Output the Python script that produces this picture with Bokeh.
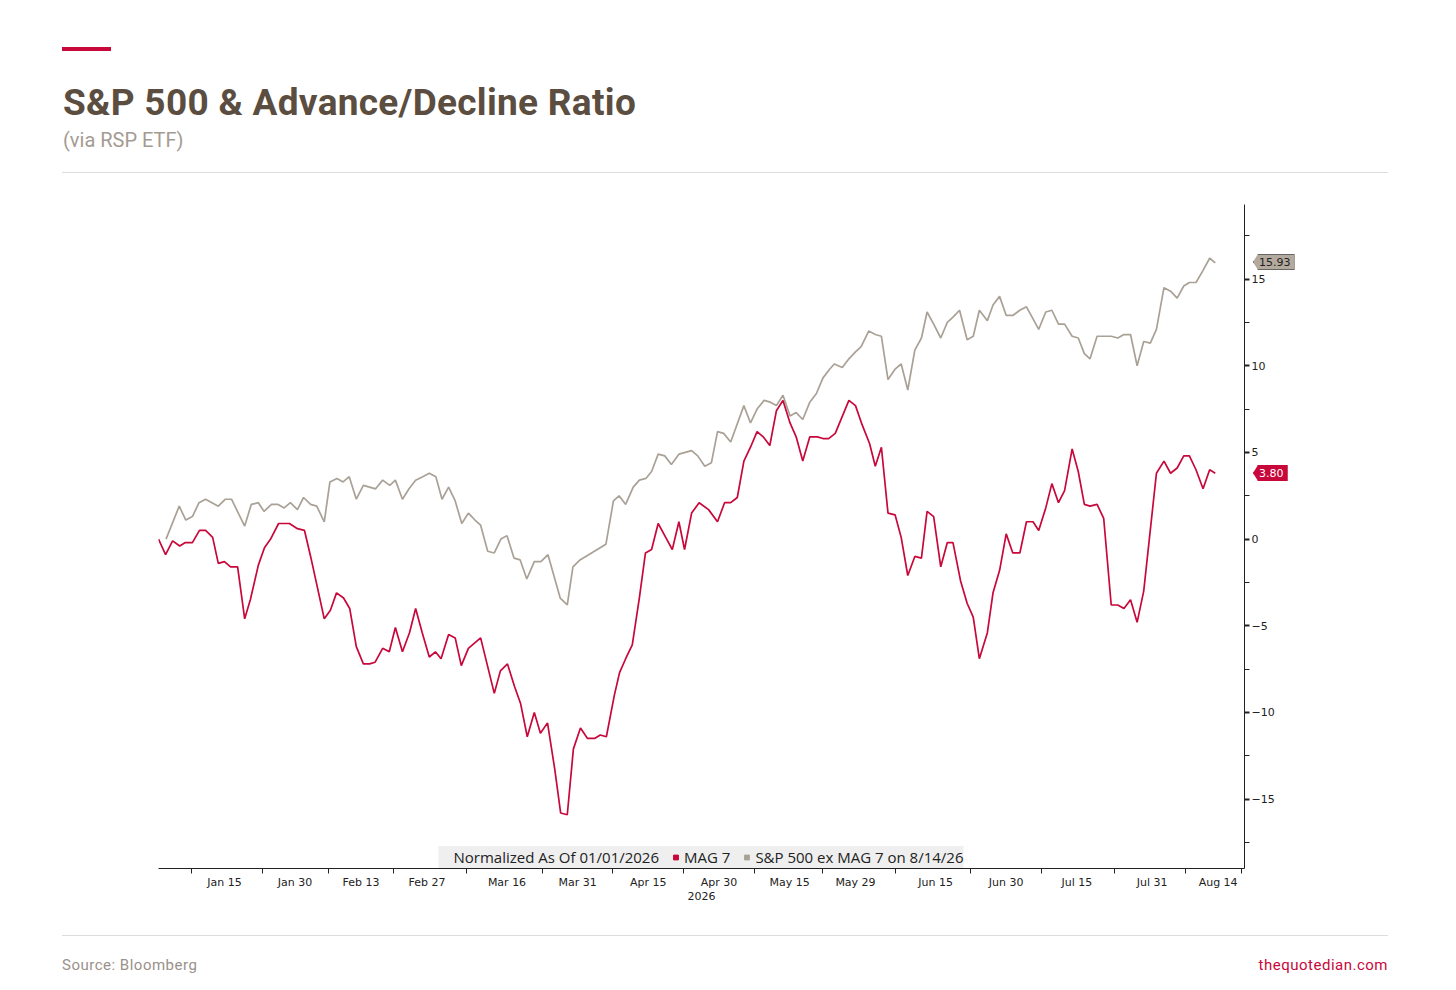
from bokeh.plotting import figure
from bokeh.models import (ColumnDataSource, FixedTicker, Legend, LegendItem, Div, Range1d)
from bokeh.layouts import column
from bokeh.embed import file_html
from bokeh.resources import INLINE

# ---- data: days since 2026-01-01, normalized % change ----
mag7_day = [0,1.5,3,4.5,5.7,7.2,8.7,10,11.5,12.7,14,15.3,16.8,18.3,19.5,21.2,22.5,23.8,25.5,26.8,27.8,29.5,31,32.3,
            35.2,36.5,37.8,39.3,40.6,42,43.5,44.8,46,47.6,49,50.3,51.8,53.3,54.6,56,57.5,58.8,60,61.6,63,64.3,65.8,
            68.4,71.3,72.6,74.1,75.6,76.9,78.3,79.8,81.1,82.6,84.1,85.4,86.8,88.1,89.6,91.1,92.6,93.8,95.1,96.8,97.9,
            99.2,100.6,102.1,103.4,104.7,106.1,107.7,109.1,110.5,111.7,113.2,114.8,116.8,118.7,120.2,121.5,122.9,
            124.3,125.7,127.1,128.4,129.8,131.2,132.6,134.1,135.4,136.8,138.3,139.9,141.1,142.3,143.7,146.6,148.0,
            149.4,151.0,152.2,153.5,154.9,156.4,157.7,159.1,160.6,162.0,163.2,164.6,166.1,167.5,168.7,170.3,171.7,
            173.0,174.3,176.0,177.2,178.6,180.0,181.4,182.9,184.3,185.7,186.9,188.4,189.7,191.1,192.4,194.0,195.3,
            196.6,197.8,199.3,200.7,202.3,203.7,205.0,206.4,207.8,209.2,211.9,213.5,214.9,216.3,217.7,218.9,220.3,
            221.8,223.2,224.4]
mag7_val = [0,-0.9,-0.1,-0.4,-0.2,-0.2,0.5,0.5,0.1,-1.4,-1.3,-1.6,-1.6,-4.6,-3.5,-1.5,-0.5,0,0.9,0.9,0.9,0.6,0.5,-1.0,
            -4.6,-4.1,-3.1,-3.4,-4.0,-6.2,-7.2,-7.2,-7.1,-6.3,-6.5,-5.1,-6.5,-5.4,-4.0,-5.4,-6.8,-6.5,-6.9,-5.5,-5.7,-7.3,-6.3,
            -5.7,-8.9,-7.6,-7.2,-8.5,-9.5,-11.4,-10.0,-11.2,-10.6,-13.2,-15.8,-15.9,-12.1,-10.9,-11.5,-11.5,-11.3,-11.4,-9.0,-7.7,
            -6.9,-6.1,-3.4,-0.8,-0.6,0.9,0.1,-0.6,1.0,-0.6,1.5,2.1,1.7,1.0,2.1,2.1,2.4,
            4.5,5.3,6.2,5.9,5.4,7.4,8.0,6.7,5.9,4.5,5.9,5.9,5.8,5.8,6.1,8.0,7.7,
            6.6,5.5,4.2,5.3,1.5,1.4,0.1,-2.1,-1.0,-1.1,1.6,1.3,-1.6,-0.2,-0.2,-2.4,-3.7,
            -4.5,-6.9,-5.4,-3.1,-1.8,0.3,-0.8,-0.8,1.0,1.0,0.5,1.8,3.2,2.1,2.8,5.2,3.9,
            2.0,1.9,2.0,1.2,-3.8,-3.8,-4.0,-3.5,-4.8,-3.0,3.8,4.5,3.8,4.1,4.8,4.8,4.0,
            2.9,4.0,3.80]

ex_day = [1.6,4.4,5.8,7.2,8.6,10.0,12.7,14.2,15.5,18.3,19.7,21.2,22.4,24.0,25.4,26.7,28.0,29.5,30.8,32.3,33.6,35.2,
          36.4,37.9,39.2,40.5,42.0,43.5,46.1,47.6,49.1,50.3,51.8,53.2,54.6,56.1,57.5,58.9,60.2,61.6,63.0,64.4,65.8,
          67.2,68.4,69.9,71.3,72.7,74.0,75.5,76.8,78.2,79.8,81.2,82.7,85.3,86.8,88.0,89.5,95.0,96.6,97.8,99.2,100.8,
          102.1,103.5,104.7,106.1,107.5,108.9,110.5,113.2,114.5,116.0,117.4,118.7,120.0,121.5,124.3,125.7,127.1,
          128.6,129.9,131.2,132.6,134.1,135.4,136.8,138.3,139.7,141.1,142.5,143.5,145.2,146.6,148.0,149.2,150.8,
          152.2,153.5,154.9,156.4,157.7,159.1,160.6,162.0,163.2,164.6,166.1,167.5,168.7,170.1,171.7,173.0,174.3,
          176.0,177.2,178.6,180.0,181.4,182.9,184.3,185.7,186.9,188.4,189.7,191.1,192.4,194.0,195.3,196.6,197.8,
          199.3,200.7,202.3,203.7,205.0,206.4,207.8,209.2,210.6,211.9,213.5,214.9,216.3,217.7,218.9,220.3,221.8,
          223.2,224.4]
ex_val = [0.0,1.9,1.1,1.3,2.1,2.3,1.9,2.3,2.3,0.75,2.0,2.1,1.6,2.0,2.0,1.8,2.1,1.7,2.4,2.0,1.9,1.0,
          3.3,3.5,3.3,3.6,2.3,3.1,2.9,3.4,3.1,3.4,2.3,2.9,3.4,3.6,3.8,3.6,2.3,3.0,2.2,0.9,1.5,
          1.1,0.8,-0.7,-0.8,0.0,0.2,-1.1,-1.2,-2.3,-1.3,-1.3,-0.9,-3.4,-3.8,-1.6,-1.2,-0.3,2.2,2.5,2.0,3.0,
          3.4,3.5,3.9,4.9,4.8,4.3,4.9,5.1,4.8,4.2,4.4,6.2,6.1,5.6,7.7,6.7,7.5,
          8.0,7.9,7.7,8.3,7.1,7.3,6.9,7.9,8.4,9.3,9.8,10.1,9.9,10.4,10.8,11.1,12.0,
          11.8,11.7,9.2,9.8,10.1,8.6,10.9,11.6,13.1,12.4,11.6,12.5,12.8,13.2,11.5,11.7,13.2,
          12.6,13.5,14.0,12.9,12.9,13.2,13.4,12.7,12.1,13.1,13.2,12.4,12.4,11.7,11.6,10.7,10.4,
          11.7,11.7,11.7,11.6,11.8,11.8,10.0,11.4,11.3,12.1,14.5,14.3,13.9,14.6,14.8,14.8,15.5,
          16.2,15.93]

month_ticks = [14,29,43,57,74,89,104,119,134,148,165,180,195,211,225]
month_labels = ["Jan 15","Jan 30","Feb 13","Feb 27","Mar 16","Mar 31","Apr 15","Apr 30",
                "May 15","May 29","Jun 15","Jun 30","Jul 15","Jul 31","Aug 14"]
boundary_ticks = [7,22,36,50,65.5,81.5,96.5,111.5,126.5,141,156.5,172.5,187.5,203,218,230]
y_ticks = [-15,-10,-5,0,5,10,15]
y_minor = [-17.5,-12.5,-7.5,-2.5,2.5,7.5,12.5,17.5]

RED = "#c8073a"
GRAY = "#aaa196"
BROWN = "#5b4d3f"

HEAD_H = 187
BL, BR, BT, BB = 158, 196, 7, 36
FIG_H = 707
Y0, Y1 = -19.0, 19.3
frame_h = FIG_H - BT - BB
frame_w = 1440 - BL - BR

def tag_top(v):
    # vertical centre of value v, relative to the header box top
    return HEAD_H + BT + (Y1 - v) / (Y1 - Y0) * frame_h

tags = ""
for val, bg, fg, bd in [(ex_val[-1], "#b3a99d", "#222222", "#666666"), (mag7_val[-1], RED, "white", RED)]:
    tags += (f'<div style="position:absolute;left:{BL + frame_w + 4}px;top:{tag_top(val) - 3:.0f}px;'
             f'height:16px;line-height:16px;font-family:\'DejaVu Sans\';font-size:11px;color:{fg};'
             f'background:{bg};border:1px solid {bd};padding:0 3px 0 5px;'
             f'clip-path:polygon(5px 0,100% 0,100% 100%,5px 100%,0 50%);">{val:.2f}</div>')

header = Div(width=1440, height=HEAD_H, styles={"overflow": "visible", "z-index": "10"}, text=f"""
<div style="position:relative;width:1440px;height:{HEAD_H}px;overflow:visible;font-family:Roboto,'Noto Sans',sans-serif;">
 <div style="position:absolute;left:57px;top:42px;width:49px;height:4px;background:{RED};"></div>
 <div style="position:absolute;left:58px;top:72px;font-size:37px;font-weight:bold;color:{BROWN};letter-spacing:0.3px;">S&amp;P 500 &amp; Advance/Decline Ratio</div>
 <div style="position:absolute;left:58px;top:121px;font-size:20px;color:#a49b92;">(via RSP ETF)</div>
 <div style="position:absolute;left:57px;top:167px;width:1326px;height:1px;background:#dddddd;"></div>
 {tags}
</div>""")

p = figure(width=1440, height=FIG_H, output_backend="svg", toolbar_location=None,
           x_range=Range1d(0, 230.6), y_range=Range1d(Y0, Y1),
           min_border_left=BL, min_border_right=BR, min_border_top=BT, min_border_bottom=BB,
           y_axis_location="right")
p.outline_line_color = None
p.xgrid.visible = False
p.ygrid.visible = False

src_m = ColumnDataSource(dict(x=mag7_day, y=mag7_val))
src_e = ColumnDataSource(dict(x=ex_day, y=ex_val))
r_e = p.line("x", "y", source=src_e, color=GRAY, line_width=1.7)
r_m = p.line("x", "y", source=src_m, color=RED, line_width=1.7)

# legend swatches (squares; NaN data so they draw only in the legend)
nan = [float("nan")]
sq_t = p.scatter(nan, nan, marker="square", size=1, alpha=0)
sq_m = p.scatter(nan, nan, marker="square", size=12, color=RED)
sq_e = p.scatter(nan, nan, marker="square", size=12, color=GRAY)
leg = Legend(items=[LegendItem(label="Normalized As Of 01/01/2026", renderers=[sq_t]),
                    LegendItem(label="MAG 7", renderers=[sq_m]),
                    LegendItem(label="S&P 500 ex MAG 7 on 8/14/26", renderers=[sq_e])],
             orientation="horizontal", location="bottom_center",
             label_text_font="Open Sans", label_text_font_size="15px", label_text_color="#222222",
             glyph_width=12, glyph_height=12, label_standoff=3, spacing=10, label_height=22,
             background_fill_color="#efefef", background_fill_alpha=1, border_line_color=None,
             padding=7, margin=0)
p.add_layout(leg)

xa = p.xaxis[0]
xa.ticker = FixedTicker(ticks=month_ticks, minor_ticks=boundary_ticks)
xa.major_label_overrides = {t: l for t, l in zip(month_ticks, month_labels)}
xa.major_tick_out = 0
xa.major_tick_in = 0
xa.minor_tick_out = 5
xa.minor_tick_in = 0
xa.axis_line_color = "#222222"
xa.minor_tick_line_color = "#222222"
xa.major_label_text_font = "DejaVu Sans"
xa.major_label_text_font_size = "11px"
xa.major_label_text_color = "#222222"
xa.major_label_standoff = 2
xa.axis_label = "2026"
xa.axis_label_text_font = "DejaVu Sans"
xa.axis_label_text_font_size = "11px"
xa.axis_label_text_font_style = "normal"
xa.axis_label_text_color = "#222222"
xa.axis_label_standoff = 0

ya = p.yaxis[0]
ya.ticker = FixedTicker(ticks=y_ticks, minor_ticks=y_minor)
ya.major_tick_out = 5
ya.major_tick_in = 0
ya.minor_tick_out = 5
ya.minor_tick_in = 0
ya.major_tick_line_width = 2
ya.axis_line_color = "#222222"
ya.major_tick_line_color = "#222222"
ya.minor_tick_line_color = "#222222"
ya.major_label_text_font = "DejaVu Sans"
ya.major_label_text_font_size = "11px"
ya.major_label_text_color = "#222222"
ya.major_label_standoff = 2

footer = Div(width=1440, height=80, text=f"""
<div style="position:relative;width:1440px;height:80px;font-family:Roboto,'Noto Sans',sans-serif;">
 <div style="position:absolute;left:57px;top:26px;width:1326px;height:1px;background:#dddddd;"></div>
 <div style="position:absolute;left:57px;top:46px;font-size:15px;color:#9a918a;letter-spacing:0.5px;">Source: Bloomberg</div>
 <div style="position:absolute;right:57px;top:46px;font-size:15px;color:{RED};letter-spacing:0.5px;">thequotedian.com</div>
</div>""")

layout = column(header, p, footer, spacing=0)
open("out.html", "w").write(file_html(layout, INLINE))
